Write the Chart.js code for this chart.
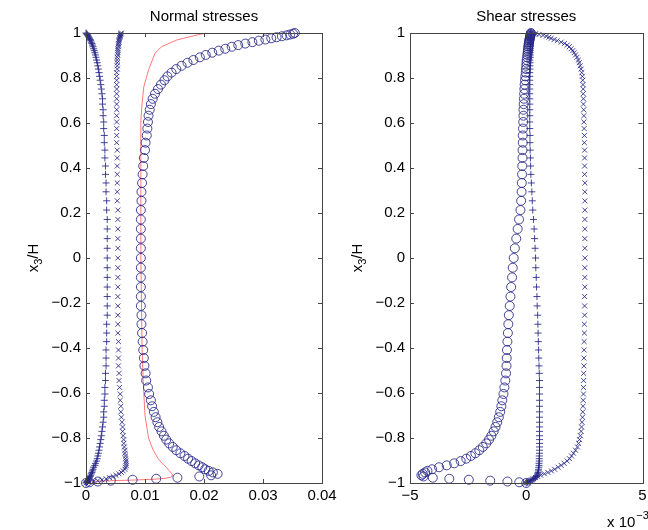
<!DOCTYPE html>
<html><head><meta charset="utf-8">
<script src="https://cdn.jsdelivr.net/npm/chart.js@4/dist/chart.umd.min.js"></script>
<style>
html,body{margin:0;padding:0;background:#fff;width:648px;height:530px;overflow:hidden}
canvas{position:absolute;top:0}
#c1{left:0}
#c2{left:330px}
</style></head><body>
<canvas id="c1" width="360" height="530"></canvas>
<canvas id="c2" width="318" height="530"></canvas>
<script>
// wall-normal positions x3/H of the sample points
const yGrid = [-1,-0.9968,-0.9934,-0.9896,-0.9856,-0.9812,-0.9765,-0.9710,-0.9658,-0.9593,-0.9530,-0.9462,
 -0.9389,-0.9300,-0.9216,-0.9125,-0.9025,-0.8920,-0.8799,-0.8678,-0.8543,-0.8397,-0.8240,-0.8072,
 -0.7900,-0.7705,-0.7509,-0.7299,-0.7076,-0.6839,-0.6589,-0.6324,-0.6045,-0.5753,-0.5446,-0.5126,
 -0.4794,-0.4447,-0.4088,-0.3717,-0.3335,-0.2942,-0.2541,-0.2130,-0.1713,-0.1290,-0.0862,-0.0432,
 0,
 0.0432,0.0862,0.1290,0.1713,0.2130,0.2541,0.2942,0.3335,0.3717,0.4088,0.4447,0.4794,
 0.5126,0.5446,0.5753,0.6045,0.6324,0.6589,0.6839,0.7076,0.7299,0.7509,0.7705,0.7900,
 0.8072,0.8240,0.8397,0.8543,0.8678,0.8799,0.8920,0.9025,0.9125,0.9216,0.9300,0.9389,
 0.9462,0.9530,0.9593,0.9658,0.9710,0.9765,0.9812,0.9856,0.9896,0.9934,0.9968,1];

// Normal stresses: '+' series
const normalPlus = [0,0.0001,0.0002,0.0003,0.0004,0.0005,0.0006,0.0007,0.0008,0.0009,0.0010,0.0011,
 0.0012,0.0013,0.0015,0.0016,0.0018,0.0019,0.0020,0.0021,0.0022,0.0023,0.0024,0.0025,
 0.0026,0.0027,0.0028,0.0029,0.0030,0.0030,0.0031,0.0031,0.0032,0.0032,0.0033,0.0033,
 0.0034,0.0034,0.0034,0.0035,0.0035,0.0035,0.0036,0.0036,0.0036,0.0036,0.0036,0.0036,
 0.0036,
 0.0036,0.0036,0.0036,0.0036,0.0035,0.0035,0.0034,0.0034,0.0033,0.0033,0.0032,0.0032,
 0.0031,0.0031,0.0030,0.0030,0.0029,0.0029,0.0028,0.0028,0.0027,0.0026,0.0025,0.0024,
 0.0023,0.0022,0.0021,0.0020,0.0019,0.0018,0.0017,0.0016,0.0015,0.0014,0.0013,0.0012,
 0.0011,0.0010,0.0009,0.0008,0.0007,0.0006,0.0005,0.0004,0.0003,0.0002,0.0001,0];
// Normal stresses: 'x' series
const normalCross = [0,0.0006,0.0013,0.0020,0.0027,0.0034,0.0040,0.0046,0.0051,0.0056,0.0060,0.0063,
 0.0066,0.0067,0.0068,0.0068,0.0068,0.0067,0.0067,0.0066,0.0066,0.0065,0.0064,0.0064,
 0.0063,0.0062,0.0062,0.0061,0.0060,0.0059,0.0059,0.0058,0.0058,0.0057,0.0056,0.0056,
 0.0055,0.0055,0.0055,0.0055,0.0054,0.0054,0.0054,0.0054,0.0054,0.0054,0.0054,0.0054,
 0.0054,
 0.0054,0.0054,0.0054,0.0054,0.0054,0.0053,0.0053,0.0053,0.0053,0.0053,0.0053,0.0053,
 0.0052,0.0052,0.0052,0.0052,0.0052,0.0052,0.0052,0.0052,0.0052,0.0052,0.0052,0.0052,
 0.0052,0.0052,0.0053,0.0053,0.0053,0.0053,0.0053,0.0054,0.0054,0.0054,0.0054,0.0055,
 0.0055,0.0055,0.0056,0.0056,0.0056,0.0057,0.0057,0.0058,0.0058,0.0059,0.0059,0.0060];
// Normal stresses: 'o' series
const normalCircle = [0,0.0006,0.0020,0.0042,0.0079,0.0119,0.0155,0.0192,0.0212,0.0223,0.0215,0.0208,
 0.0202,0.0197,0.0191,0.0185,0.0179,0.0173,0.0167,0.0160,0.0153,0.0147,0.0141,0.0136,
 0.0132,0.0128,0.0124,0.0121,0.0118,0.0115,0.0112,0.0110,0.0107,0.0105,0.0102,0.0101,
 0.0099,0.0098,0.0097,0.0096,0.0095,0.0094,0.0094,0.0093,0.0093,0.0093,0.0093,0.0093,
 0.0093,
 0.0093,0.0093,0.0093,0.0093,0.0093,0.0094,0.0094,0.0095,0.0096,0.0097,0.0098,0.0100,
 0.0101,0.0103,0.0104,0.0105,0.0106,0.0108,0.0110,0.0113,0.0117,0.0122,0.0127,0.0133,
 0.0138,0.0145,0.0153,0.0162,0.0172,0.0182,0.0193,0.0203,0.0214,0.0225,0.0236,0.0247,
 0.0258,0.0270,0.0282,0.0293,0.0304,0.0314,0.0323,0.0332,0.0340,0.0346,0.0351,0.0354];
// Normal stresses: red reference line
const redLineY = [-1,-0.993,-0.990,-0.987,-0.984,-0.980,-0.975,-0.968,-0.960,-0.945,-0.930,-0.910,-0.890,-0.855,-0.800,
 -0.700,-0.550,-0.400,-0.200,0,0.200,0.450,0.613,0.687,0.761,0.836,0.910,0.939,0.969,0.991,0.999];
const redLineX = [0,0.0010,0.0040,0.0080,0.0110,0.0132,0.0143,0.0147,0.0146,0.0141,0.0136,0.0128,0.0122,0.0114,0.0106,
 0.0100,0.0097,0.0095,0.0094,0.0093,0.0093,0.0093,0.0093,0.0095,0.0098,0.0106,0.0117,0.0128,0.0154,0.0188,0.0202];

// Shear stresses (x 10^-3): 'o' series
const shearCircle = [0,-0.30,-0.81,-1.55,-2.47,-3.31,-4.02,-4.42,-4.51,-4.45,-4.35,-4.25,
 -4.05,-3.75,-3.42,-3.10,-2.82,-2.58,-2.38,-2.19,-2.02,-1.87,-1.72,-1.60,
 -1.50,-1.40,-1.32,-1.25,-1.18,-1.12,-1.07,-1.03,-0.98,-0.94,-0.90,-0.87,
 -0.85,-0.84,-0.83,-0.81,-0.79,-0.77,-0.75,-0.71,-0.68,-0.65,-0.61,-0.58,
 -0.54,
 -0.49,-0.43,-0.37,-0.31,-0.25,-0.22,-0.20,-0.19,-0.18,-0.17,-0.16,-0.16,
 -0.15,-0.15,-0.14,-0.13,-0.12,-0.12,-0.11,-0.10,-0.09,-0.08,-0.07,-0.05,
 -0.04,-0.02,-0.01,0.00,0.01,0.02,0.04,0.05,0.06,0.07,0.08,0.09,
 0.10,0.11,0.12,0.13,0.14,0.15,0.16,0.17,0.18,0.19,0.20,0.20];
// Shear stresses (x 10^-3): '+' series
const shearPlus = [0,0.05,0.12,0.20,0.28,0.34,0.39,0.43,0.46,0.49,0.51,0.52,
 0.53,0.54,0.55,0.55,0.56,0.56,0.56,0.57,0.57,0.57,0.57,0.57,
 0.57,0.57,0.57,0.57,0.57,0.57,0.57,0.57,0.57,0.57,0.57,0.56,
 0.55,0.54,0.53,0.52,0.51,0.50,0.49,0.47,0.46,0.44,0.43,0.41,
 0.40,
 0.38,0.36,0.34,0.31,0.28,0.26,0.24,0.22,0.20,0.19,0.18,0.17,
 0.16,0.16,0.15,0.15,0.15,0.15,0.15,0.15,0.15,0.15,0.15,0.15,
 0.15,0.15,0.16,0.16,0.16,0.16,0.17,0.17,0.17,0.17,0.18,0.18,
 0.18,0.18,0.19,0.19,0.19,0.19,0.20,0.20,0.20,0.20,0.20,0.20];
// Shear stresses (x 10^-3): 'x' series
const shearCross = [0,0.05,0.10,0.16,0.22,0.30,0.40,0.50,0.62,0.78,0.93,1.08,
 1.22,1.37,1.50,1.63,1.76,1.86,1.95,2.03,2.12,2.20,2.25,2.29,
 2.33,2.36,2.38,2.40,2.42,2.43,2.44,2.45,2.46,2.46,2.47,2.47,
 2.48,2.48,2.49,2.49,2.50,2.50,2.51,2.51,2.51,2.52,2.52,2.52,
 2.52,
 2.52,2.52,2.52,2.52,2.52,2.52,2.52,2.52,2.51,2.51,2.51,2.51,
 2.50,2.50,2.49,2.48,2.48,2.47,2.46,2.46,2.45,2.45,2.44,2.43,
 2.41,2.39,2.36,2.32,2.28,2.24,2.18,2.12,2.06,2.00,1.93,1.85,
 1.76,1.64,1.50,1.33,1.20,1.07,0.97,0.86,0.72,0.55,0.40,0.20];

// axis ticks and labels
const yTicks = [-1,-0.8,-0.6,-0.4,-0.2,0,0.2,0.4,0.6,0.8,1];
const yTickLabels = ['\u22121','\u22120.8','\u22120.6','\u22120.4','\u22120.2','0','0.2','0.4','0.6','0.8','1'];
const xTicksNormal = [0,0.01,0.02,0.03,0.04];
const xTickLabelsNormal = ['0','0.01','0.02','0.03','0.04'];
const xTicksShear = [-5,0,5];
const xTickLabelsShear = ['\u22125','0','5'];
const titles = ['Normal stresses','Shear stresses'];

const FONT = '"Liberation Sans", Arial, Helvetica, sans-serif';
const markerColor = 'rgba(38,38,135,0.85)';
const pts = (xs, ys) => xs.map((x, i) => ({x: x, y: ys[i]}));
function markers(xs, style, r) {
  return {data: pts(xs, yGrid), showLine: false, pointStyle: style, pointRadius: r,
    pointBorderColor: markerColor, pointBackgroundColor: 'rgba(0,0,0,0)', pointBorderWidth: 1, clip: false};
}

const decor = {
  id: 'decor',
  afterDraw(chart, args, o) {
    const ctx = chart.ctx, a = chart.chartArea;
    const xs = chart.scales.x, ys = chart.scales.y;
    ctx.save();
    ctx.strokeStyle = '#444'; ctx.lineWidth = 1;
    ctx.beginPath();
    const L = 4;
    o.xt.forEach(v => { const p = Math.round(xs.getPixelForValue(v)) + 0.5;
      ctx.moveTo(p, a.bottom); ctx.lineTo(p, a.bottom - L); ctx.moveTo(p, a.top); ctx.lineTo(p, a.top + L); });
    yTicks.forEach(v => { const p = Math.round(ys.getPixelForValue(v)) + 0.5;
      ctx.moveTo(a.left, p); ctx.lineTo(a.left + L, p); ctx.moveTo(a.right, p); ctx.lineTo(a.right - L, p); });
    ctx.stroke();
    ctx.strokeRect(Math.round(a.left) + 0.5, Math.round(a.top) + 0.5, Math.round(a.right - a.left), Math.round(a.bottom - a.top));
    ctx.fillStyle = '#000';
    ctx.font = '15px ' + FONT; ctx.textAlign = 'center'; ctx.textBaseline = 'middle';
    ctx.fillText(o.title, (a.left + a.right) / 2, 17);
    // y label x3/H
    ctx.translate(o.ylabX, (a.top + a.bottom) / 2);
    ctx.rotate(-Math.PI / 2);
    ctx.textAlign = 'left'; ctx.textBaseline = 'alphabetic';
    ctx.font = '15px ' + FONT; const w1 = ctx.measureText('x').width, w3 = ctx.measureText('/H').width;
    ctx.font = '11px ' + FONT; const w2 = ctx.measureText('3').width;
    let sx = -(w1 + w2 + w3) / 2;
    ctx.font = '15px ' + FONT; ctx.fillText('x', sx, 5); sx += w1;
    ctx.font = '11px ' + FONT; ctx.fillText('3', sx, 9); sx += w2;
    ctx.font = '15px ' + FONT; ctx.fillText('/H', sx, 5);
    ctx.restore();
    if (o.expo) {
      ctx.save(); ctx.fillStyle = '#000'; ctx.textAlign = 'left'; ctx.textBaseline = 'alphabetic';
      ctx.font = '15px ' + FONT; ctx.fillText('x 10', o.expo[0], o.expo[1]);
      const w = ctx.measureText('x 10').width;
      ctx.font = '11px ' + FONT; ctx.fillText('\u22123', o.expo[0] + w + 1, o.expo[1] - 8);
      ctx.restore();
    }
  }
};

function makeChart(id, datasets, xmin, xmax, xt, xl, yAxisW, padRight, title, ylabX, expo) {
  return new Chart(document.getElementById(id), {
    type: 'scatter',
    data: {datasets: datasets},
    options: {
      responsive: false, animation: false, events: [],
      layout: {padding: {top: 33, right: padRight, left: 0, bottom: 0}},
      plugins: {legend: {display: false}, tooltip: {enabled: false},
        decor: {title: title, ylabX: ylabX, xt: xt, expo: expo}},
      scales: {
        x: {type: 'linear', min: xmin, max: xmax,
          grid: {display: false, drawTicks: false}, border: {display: false},
          afterBuildTicks: s => { s.ticks = xt.map(v => ({value: v})); },
          afterFit: s => { s.height = 47; s.paddingLeft = 0; s.paddingRight = 0; },
          ticks: {autoSkip: false, maxRotation: 0, padding: 4, color: '#000', font: {size: 15, family: FONT},
            callback: (v, i) => xl[i]}},
        y: {type: 'linear', min: -1, max: 1,
          grid: {display: false, drawTicks: false}, border: {display: false},
          afterBuildTicks: s => { s.ticks = yTicks.map(v => ({value: v})); },
          afterFit: s => { s.width = yAxisW; s.paddingTop = 0; s.paddingBottom = 0; },
          ticks: {autoSkip: false, padding: 5, color: '#000', font: {size: 15, family: FONT},
            callback: (v, i) => yTickLabels[i]}}
      }
    },
    plugins: [decor]
  });
}

makeChart('c1', [
  markers(normalPlus, 'cross', 3.5),
  markers(normalCross, 'crossRot', 3.5),
  markers(normalCircle, 'circle', 4.5),
  {data: pts(redLineX, redLineY), showLine: true, borderColor: 'rgb(255,120,120)', borderWidth: 1,
   pointRadius: 0, tension: 0, clip: false}
], 0, 0.04, xTicksNormal, xTickLabelsNormal, 86, 38, titles[0], 33, null);

makeChart('c2', [
  markers(shearPlus, 'cross', 3.5),
  markers(shearCross, 'crossRot', 3.5),
  markers(shearCircle, 'circle', 4.5)
], -5, 5, xTicksShear, xTickLabelsShear, 80, 1, titles[1], 27, [277, 527]);
</script>
</body></html>
